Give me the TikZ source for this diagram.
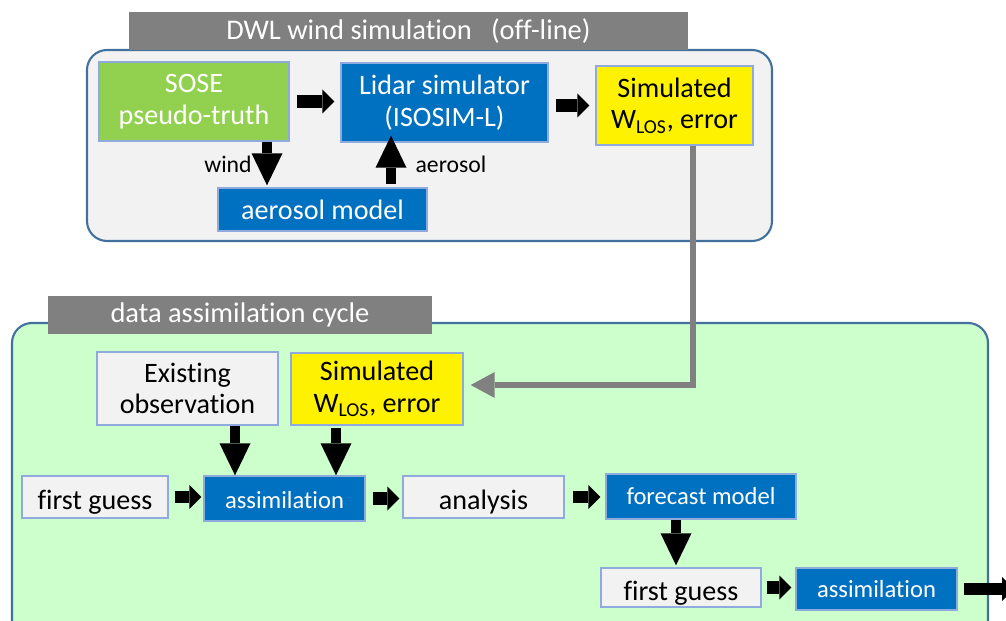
\documentclass[tikz,border=0pt]{standalone}
\usepackage{fontspec}
\setmainfont{Carlito}[Ligatures=NoCommon]
\usetikzlibrary{arrows.meta}

\definecolor{boxblue}{HTML}{0070C0}
\definecolor{boxgreen}{HTML}{92D050}
\definecolor{boxgrey}{HTML}{F2F2F2}
\definecolor{bargrey}{HTML}{808080}
\definecolor{cyclegreen}{HTML}{CCFFCC}
\definecolor{frameblue}{HTML}{41719C}
\definecolor{edgeblue}{HTML}{8FAADC}

\begin{document}
\begin{tikzpicture}[x=0.02cm, y=-0.02cm,
  box/.style={draw=edgeblue, line width=0.8pt, align=center, inner sep=1pt, font=\fontsize{16}{18}\selectfont},
  bluebox/.style={box, fill=boxblue, text=white},
  greybox/.style={box, fill=boxgrey},
  yellowbox/.style={box, fill=yellow},
  greenbox/.style={box, fill=boxgreen, text=white},
  lowtext/.style={text height=0.5cm, text depth=0cm},
  titlebar/.style={fill=bargrey, text=white, inner sep=0pt, font=\fontsize{16.2}{18}\selectfont},
  panel/.style={draw=frameblue, line width=1.2pt, rounded corners=0.4cm},
  hfat/.style={line width=0.25cm, -{Triangle[width=0.48cm, length=0.24cm, line width=0pt]}},
  vfat/.style={line width=0.21cm, -{Triangle[width=0.62cm, length=0.64cm, line width=0pt]}},
  greylink/.style={draw=bargrey, line width=0.13cm, -{Triangle[width=0.52cm, length=0.48cm, line width=0pt]}}]
	\clip (0,0) rectangle (1006,621);
	
	% off-line part
	\draw[panel, fill=boxgrey] (87,50) rectangle (772,241);
	\node[titlebar, minimum width=11.18cm, minimum height=0.76cm] (dwlbar) at (408.5,31) {DWL wind simulation\ \ \ (off-line)};
	\node[greenbox, minimum width=3.8cm, minimum height=1.58cm] (sose) at (194,101.5) {SOSE\\pseudo-truth};
	\node[bluebox, minimum width=4.14cm, minimum height=1.58cm] (lidar) at (444.5,102.5) {Lidar simulator\\(ISOSIM-L)};
	\node[yellowbox, minimum width=3.14cm, minimum height=1.58cm] (simtop) at (674.5,105.5) {Simulated\\W\textsubscript{LOS}, error};
	\node[bluebox, lowtext, text height=0.42cm, minimum width=4.18cm, minimum height=0.86cm] (aeromodel) at (322.5,209.5) {aerosol model};
	\node[font=\fontsize{13.5}{16}\selectfont] (windlbl) at (228,164) {wind};
	\node[font=\fontsize{13.5}{16}\selectfont] (aerlbl) at (451,164) {aerosol};
	\coordinate (windx) at (267,0);
	\coordinate (aerx) at (391,0);
	
	\draw[hfat, shorten <=0.14cm, shorten >=0.12cm] (sose) -- (lidar.west |- sose);
	\draw[hfat, shorten <=0.14cm, shorten >=0.12cm] (lidar.east |- simtop) -- (simtop);
	\draw[vfat, shorten >=0.04cm] (sose.south -| windx) -- (aeromodel.north -| windx);
	\draw[vfat, shorten <=0.06cm, shorten >=-0.14cm] (aeromodel.north -| aerx) -- (lidar.south -| aerx);
	
	% assimilation part
	\draw[panel, fill=cyclegreen] (12,323) rectangle (988,660);
	\node[titlebar, minimum width=7.68cm, minimum height=0.76cm] (dabar) at (240,315) {data assimilation cycle};
	\node[greybox, minimum width=3.62cm, minimum height=1.46cm] (exist) at (187.5,388.5) {Existing\\observation};
	\node[yellowbox, minimum width=3.44cm, minimum height=1.44cm] (simbot) at (377,389) {Simulated\\W\textsubscript{LOS}, error};
	\node[greybox, lowtext, minimum width=2.92cm, minimum height=0.84cm] (fg1) at (95,497) {first guess};
	\node[bluebox, lowtext, text height=0.4cm, minimum width=3.22cm, minimum height=0.9cm, font=\fontsize{14}{16}\selectfont] (as1) at (284.5,498.5) {assimilation};
	\node[greybox, lowtext, minimum width=3.22cm, minimum height=0.84cm] (anl) at (483.5,497) {analysis};
	\node[bluebox, minimum width=3.8cm, minimum height=0.9cm, font=\fontsize{14}{16}\selectfont] (fcm) at (701,496.5) {forecast model};
	\node[greybox, lowtext, minimum width=3.2cm, minimum height=0.78cm] (fg2) at (681,587.5) {first guess};
	\node[bluebox, minimum width=3.22cm, minimum height=0.84cm, font=\fontsize{14}{16}\selectfont] (as2) at (876.5,589) {assimilation};
	\coordinate (existx) at (235,0);
	\coordinate (simx) at (336,0);
	\coordinate (fcmx) at (676,0);
	\coordinate (outend) at (1014,589);
	
	\draw[vfat] (exist.south -| existx) -- (as1.north -| existx);
	\draw[vfat, shorten <=0.04cm] (simbot.south -| simx) -- (as1.north -| simx);
	\draw[vfat, shorten >=0.04cm] (fcm.south -| fcmx) -- (fg2.north -| fcmx);
	\draw[hfat, shorten <=0.12cm, shorten >=0.04cm] (fg1) -- (as1.west |- fg1);
	\draw[hfat, shorten <=0.14cm, shorten >=0.06cm] (as1) -- (anl.west |- as1);
	\draw[hfat, shorten <=0.16cm, shorten >=0.1cm] (anl) -- (fcm.west |- anl);
	\draw[hfat, shorten <=0.1cm, shorten >=0.08cm] (fg2) -- (as2.west |- fg2);
	\draw[hfat, shorten <=0.12cm] (as2) -- (outend);
	
	% link between the two parts
	\coordinate (bend) at (693,385);
	\draw[greylink, shorten >=0.14cm] (simtop.south -| bend) -- (bend) -- (simbot.east |- bend);
	
\end{tikzpicture}
\end{document}
